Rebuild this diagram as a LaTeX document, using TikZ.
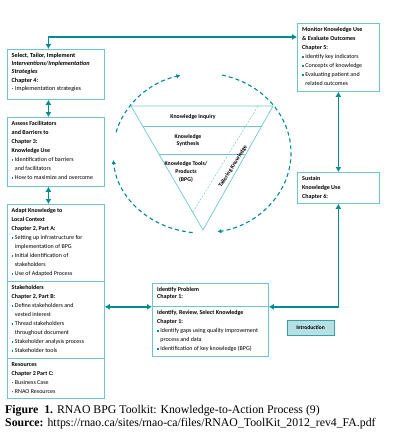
\documentclass[tikz,border=0pt]{standalone}
\usepackage{fontspec}
\setmainfont{Liberation Serif}
\newfontfamily\boxfont{Carlito}
\usetikzlibrary{arrows.meta,calc,positioning}
\definecolor{kteal}{RGB}{0,138,148}
\definecolor{kframe}{RGB}{110,198,204}
\definecolor{kfill}{RGB}{182,224,228}
\newcommand{\itm}{{\color{kteal}\rule[0.3ex]{0.6ex}{0.6ex}}\hspace{0.25em}}
\newcommand{\cont}{\phantom{\itm}}

\begin{document}
\begin{tikzpicture}[x=1pt,y=-1pt,>={Latex[length=5pt,width=6pt]},
    frame/.style={draw=kframe,line width=0.8pt,anchor=north west,inner sep=0pt},
    txt/.style={anchor=north west,inner sep=0pt,align=left,font=\boxfont\fontsize{6}{9}\selectfont},
    tlabel/.style={inner sep=0pt,align=center,font=\boxfont\bfseries\fontsize{5.8}{7.6}\selectfont},
    flow/.style={draw=kteal,line width=1.8pt},
    tri/.style={draw=kframe,line width=0.7pt},
    cyc/.style={draw=kteal,line width=1.1pt,dash pattern=on 4pt off 3pt,>={Latex[length=4pt,width=4.5pt]}}]
  \useasboundingbox (0,0) rectangle (403,433);
  % left column
  \node[frame,minimum width=97,minimum height=50] (select) at (7,49) {};
  \node[frame,minimum width=97,minimum height=69] (assess) at (7,117) {};
  \node[frame,minimum width=97,minimum height=77] (adapt) at (7,204) {};
  \node[frame,minimum width=97,minimum height=77] (stake) at (7,281) {};
  \node[frame,minimum width=97,minimum height=40] (res) at (7,358) {};
  % right column
  \node[frame,minimum width=82,minimum height=68] (monitor) at (297,23) {};
  \node[frame,minimum width=82,minimum height=31] (sustain) at (297,172) {};
  % bottom middle
  \node[frame,minimum width=116,minimum height=23] (problem) at (152,283) {};
  \node[frame,minimum width=116,minimum height=50] (review) at (152,306) {};
  \node[draw=kteal!80,fill=kfill,line width=0.9pt,minimum width=47,minimum height=15,inner sep=0pt,
        font=\boxfont\bfseries\fontsize{5.5}{6}\selectfont] (intro) at (310.5,327.5) {Introduction};
  % box texts
  \node[txt,font=\boxfont\fontsize{6.2}{8.2}\selectfont] (selectT) at ([shift={(4.5,4)}]select.north west)
    {\textbf{Select, Tailor, Implement}\\
     \textbf{\textit{Interventions/Implementation}}\\
     \textbf{\textit{Strategies}}\\
     \textbf{Chapter 4:}\\
     \itm Implementation strategies};
  \node[txt] (assessT) at ([shift={(4.5,4)}]assess.north west)
    {\textbf{Assess Facilitators}\\
     \textbf{and Barriers to}\\
     \textbf{Chapter 3:}\\
     \textbf{Knowledge Use}\\
     \itm Identification of barriers\\
     \cont and facilitators\\
     \itm How to maximize and overcome};
  \node[txt] (adaptT) at ([shift={(4.5,4)}]adapt.north west)
    {\textbf{Adapt Knowledge to}\\
     \textbf{Local Context}\\
     \textbf{Chapter 2, Part A:}\\
     \itm Setting up infrastructure for\\
     \cont implementation of BPG\\
     \itm Initial identification of\\
     \cont stakeholders\\
     \itm Use of Adapted Process};
  \node[txt] (stakeT) at ([shift={(4.5,4)}]stake.north west)
    {\textbf{Stakeholders}\\
     \textbf{Chapter 2, Part B:}\\
     \itm Define stakeholders and\\
     \cont vested interest\\
     \itm Thread stakeholders\\
     \cont throughout document\\
     \itm Stakeholder analysis process\\
     \itm Stakeholder tools};
  \node[txt] (resT) at ([shift={(4.5,4)}]res.north west)
    {\textbf{Resources}\\
     \textbf{Chapter 2 Part C:}\\
     \itm Business Case\\
     \itm RNAO Resources};
  \node[txt] (monitorT) at ([shift={(5,4)}]monitor.north west)
    {\textbf{Monitor Knowledge Use}\\
     \textbf{\& Evaluate Outcomes}\\
     \textbf{Chapter 5:}\\
     \itm Identify key indicators\\
     \itm Concepts of knowledge\\
     \itm Evaluating patient and\\
     \cont related outcomes};
  \node[txt] (sustainT) at ([shift={(5,4)}]sustain.north west)
    {\textbf{Sustain}\\
     \textbf{Knowledge Use}\\
     \textbf{Chapter 6:}};
  \node[txt,font=\boxfont\fontsize{6}{7}\selectfont] (problemT) at ([shift={(5,4.5)}]problem.north west)
    {\textbf{Identify Problem}\\
     \textbf{Chapter 1:}};
  \node[txt] (reviewT) at ([shift={(5,4)}]review.north west)
    {\textbf{Identify, Review, Select Knowledge}\\
     \textbf{Chapter 1:}\\
     \itm Identify gaps using quality improvement\\
     \cont process and data\\
     \itm Identification of key knowledge (BPG)};
  % funnel
  \coordinate (tl) at (131,106);
  \coordinate (tr) at (273,106);
  \coordinate (tb) at (203,230);
  \draw[tri] (tl) -- (tr) -- (tb) -- cycle;
  \draw[tri] ($(tl)!0.161!(tb)$) -- ($(tr)!0.161!(tb)$);
  \draw[tri] ($(tl)!0.387!(tb)$) -- ($(tr)!0.387!(tb)$);
  \draw[tri,line width=0.5pt,dash pattern=on 2pt off 1.5pt] (258,106) -- (193,212);
  \node[tlabel] (inquiry) at (193,116.5) {Knowledge Inquiry};
  \node[tlabel] (synth) at (188,140.5) {Knowledge\\Synthesis};
  \node[tlabel] (tools) at (186,172) {Knowledge Tools/\\Products\\(BPG)};
  \node[tlabel,rotate=58] (tailor) at (233,166.5) {Tailoring Knowledge};
  % action cycle
  \coordinate (cc) at (202,153);
  \draw[cyc,->] (cc) ++(195:89 and 80) arc[start angle=195,end angle=256,x radius=89,y radius=80];
  \draw[cyc,->] (cc) ++(283:89 and 80) arc[start angle=283,end angle=440,x radius=89,y radius=80];
  \draw[cyc,->] (cc) ++(96:89 and 80) arc[start angle=96,end angle=175,x radius=89,y radius=80];
  % connectors
  \draw[flow,<->] ([xshift=-7.5pt]select.north) |- ([yshift=-14pt]monitor.north west);
  \draw[flow,<->] ([xshift=-7.5pt]select.south) -- ([xshift=-7.5pt]assess.north);
  \draw[flow,<->] ([xshift=-7.5pt]assess.south) -- ([xshift=-7.5pt]adapt.north);
  \draw[flow,<->] (problem.south west) -- (problem.south west -| stake.east);
  \draw[flow,<->] (problem.south east) -| (sustain.south);
  \draw[flow,<->] (monitor.south) -- (sustain.north);
  % caption
  \node[anchor=base west,inner sep=0pt,font=\fontsize{11.8}{13}\selectfont] (fig) at (5,413)
    {\textbf{Figure\ \ 1.} RNAO BPG Toolkit: Knowledge-to-Action Process (9)};
  \node[anchor=base west,inner sep=0pt,font=\fontsize{11.8}{13}\selectfont] (src) at (5,426)
    {\textbf{Source:} https://rnao.ca/sites/rnao-ca/files/RNAO\_ToolKit\_2012\_rev4\_FA.pdf};
\end{tikzpicture}
\end{document}
